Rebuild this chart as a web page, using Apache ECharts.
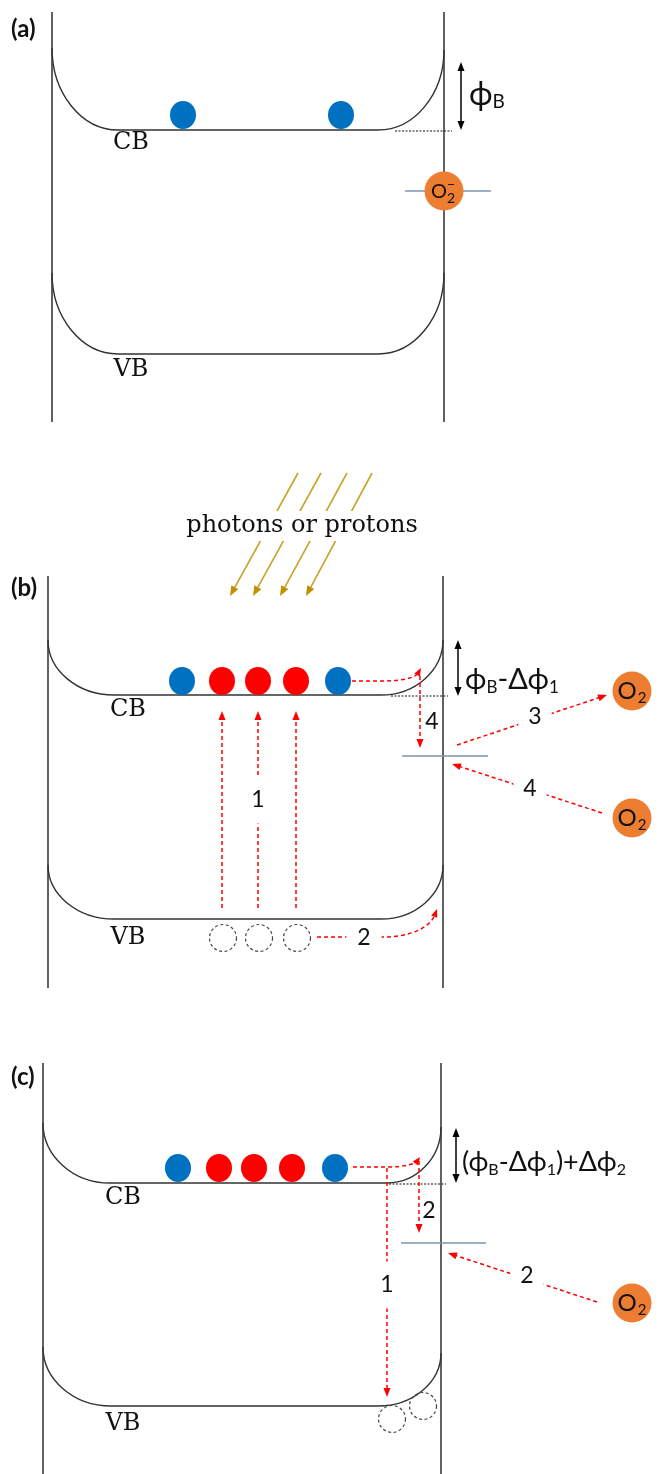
<!DOCTYPE html>
<html><head><meta charset="utf-8">
<script src="https://cdn.jsdelivr.net/npm/echarts@6/dist/echarts.min.js"></script>
<style>html,body{margin:0;padding:0;background:#fff}#c{width:660px;height:1474px}</style>
</head><body><div id="c"></div>
<script>
// ---------------- data (diagram coordinates, y downward) ----------------
const panelLabels = [['(a)', 11, 29], ['(b)', 11, 588], ['(c)', 11, 1077]];
const walls = [[52, 12, 422], [444, 12, 422], [48, 576, 988], [443, 576, 988], [43, 1063, 1474], [441, 1063, 1474]];
// xLeft, yTopLeft, xFlatStart, yFlat, xFlatEnd, xRight, yTopRight
const bandEdges = [
  [52, 48, 118, 130, 378, 444, 50],
  [52, 273, 118, 354, 378, 444, 273],
  [48, 640, 114, 695, 381, 443, 640],
  [48, 865, 114, 919, 381, 443, 865],
  [43, 1123, 110, 1183, 387, 441, 1127],
  [43, 1347, 111, 1406, 378, 441, 1353]
];
const bandNames = [['CB', 131, 143], ['VB', 131, 370], ['CB', 128, 710], ['VB', 128, 938], ['CB', 123, 1198], ['VB', 123, 1424]];
// x, y, kind (0 = thermal electron, 1 = excited electron)
const electrons = [
  [183, 115, 0], [341, 115, 0],
  [182, 681, 0], [222, 681, 1], [258, 681, 1], [296, 681, 1], [338, 681, 0],
  [178, 1168, 0], [219, 1168, 1], [254, 1168, 1], [292, 1168, 1], [335, 1168, 0]
];
const holes = [[223, 938], [259, 938], [297, 938], [392, 1419], [423, 1406]];
const oxygen = [[444, 191, 1], [632, 691, 0], [632, 818, 0], [632, 1303, 0]]; // 1 = ionised O2-
const trapLevels = [[405, 491, 191], [402, 488, 756], [401, 486, 1243]];
const flatRefs = [[395, 452, 131], [391, 448, 696], [389, 446, 1184]];
const barrierArrows = [[461, 62, 130], [458, 640, 696], [456, 1128, 1183]];
const barrierLabels = [
  ['{p|ϕ}{s|B}', 469, 95, 32],
  ['{p|ϕ}{s|B}{p|-Δϕ}{s|1}', 465, 680, 29],
  ['{p|(ϕ}{s|B}{p|-Δϕ}{s|1}{p|)+Δϕ}{s|2}', 462, 1162, 27]
];
// straight red dashed arrows: x1, y1, x2(tip), y2(tip)
const redArrows = [
  [222, 908, 222, 711], [258, 908, 258, 711], [296, 908, 296, 711],
  [420, 676, 420, 748], [457, 745, 607, 695], [602, 813, 452, 764],
  [387, 1168, 387, 1397], [419, 1161, 419, 1233], [597, 1302, 448, 1253]
];
// curved red dashed arrows: start, end of straight part, cubic c1, c2, tip
const redCurves = [
  [352, 681, 382, 681, 405, 681, 416, 677, 421, 668],
  [317, 937, 382, 937, 410, 937, 430, 928, 437, 909],
  [353, 1167, 387, 1167, 403, 1167, 415, 1164, 420, 1157]
];
// label, x, y, gap kind (0 none, 1 vertical arrow, 2 horizontal arrow, 3 slanted arrow)
const arrowLabels = [
  ['1', 258, 800, 1], ['4', 432, 722, 0], ['3', 535, 717, 3], ['4', 530, 789, 3], ['2', 364, 938, 2],
  ['1', 387, 1285, 1], ['2', 429, 1211, 0], ['2', 527, 1276, 3]
];
const photonArrows = [[298, 473, 230, 596], [321, 473, 253, 596], [347, 473, 280, 596], [372, 473, 306, 596]];
const photonText = ['photons or protons', 302, 526];

// ---------------- styling ----------------
const SANS = 'Lato, "Noto Sans", "DejaVu Sans", sans-serif';
const SERIF = '"DejaVu Serif", "Liberation Serif", serif';
const RED = '#ff0000';
const GAP_PAD = [null, [12, 6], [3, 11], [8, 10]];

function head(tip, from, len, wid, color) {
  const dx = tip[0] - from[0], dy = tip[1] - from[1];
  const L = Math.hypot(dx, dy) || 1, ux = dx / L, uy = dy / L;
  const bx = tip[0] - ux * len, by = tip[1] - uy * len;
  const px = -uy * wid / 2, py = ux * wid / 2;
  return { type: 'polygon', shape: { points: [tip, [bx + px, by + py], [bx - px, by - py]] }, style: { fill: color } };
}
function base(tip, from, len) {
  const dx = tip[0] - from[0], dy = tip[1] - from[1];
  const L = Math.hypot(dx, dy) || 1;
  return [tip[0] - dx / L * len, tip[1] - dy / L * len];
}
function mk(arr, render, z) {
  return {
    type: 'custom', coordinateSystem: 'cartesian2d', silent: true, clip: false, z: z || 2,
    data: arr.map((d, i) => [i, i]),
    renderItem: (params, api) => render(arr[params.dataIndex], (x, y) => api.coord([x, y]))
  };
}

const series = [
  mk(walls, (d, P) => ({ type: 'line', shape: { x1: P(d[0], d[1])[0], y1: P(d[0], d[1])[1], x2: P(d[0], d[2])[0], y2: P(d[0], d[2])[1] }, style: { stroke: '#3a3a3a', lineWidth: 1.6 } })),
  mk(bandEdges, (d, P) => {
    const k = 0.552;
    const [xL, yTL, xF1, yF, xF2, xR, yTR] = d;
    const pts = [[xL, yTL], [xL, yTL + k * (yF - yTL)], [xF1 - k * (xF1 - xL), yF], [xF1, yF], [xF2, yF],
      [xF2 + k * (xR - xF2), yF], [xR, yTR + k * (yF - yTR)], [xR, yTR]].map(p => P(p[0], p[1]));
    const s = p => p[0].toFixed(1) + ' ' + p[1].toFixed(1);
    const pd = 'M' + s(pts[0]) + ' C' + s(pts[1]) + ' ' + s(pts[2]) + ' ' + s(pts[3]) + ' L' + s(pts[4]) +
      ' C' + s(pts[5]) + ' ' + s(pts[6]) + ' ' + s(pts[7]);
    return { type: 'path', shape: { pathData: pd }, style: { fill: null, stroke: '#333', lineWidth: 1.4 } };
  }),
  mk(flatRefs, (d, P) => {
    const a = P(d[0], d[2]), b = P(d[1], d[2]);
    return { type: 'line', shape: { x1: a[0], y1: a[1], x2: b[0], y2: b[1] }, style: { stroke: '#111', lineWidth: 1.1, lineDash: [2, 1.5] } };
  }),
  mk(trapLevels, (d, P) => {
    const a = P(d[0], d[2]), b = P(d[1], d[2]);
    return { type: 'line', shape: { x1: a[0], y1: a[1], x2: b[0], y2: b[1] }, style: { stroke: '#8093ad', lineWidth: 1.7 } };
  }),
  mk(barrierArrows, (d, P) => {
    const t = P(d[0], d[1]), b = P(d[0], d[2]);
    const s1 = base(t, b, 8), s2 = base(b, t, 8);
    return { type: 'group', children: [
      { type: 'line', shape: { x1: s1[0], y1: s1[1], x2: s2[0], y2: s2[1] }, style: { stroke: '#000', lineWidth: 1.5 } },
      head(t, b, 9, 7, '#000'), head(b, t, 9, 7, '#000')] };
  }),
  mk(electrons, (d, P) => {
    const c = P(d[0], d[1]);
    return { type: 'circle', x: c[0], y: c[1], scaleY: 14 / 13, shape: { cx: 0, cy: 0, r: 13 }, style: { fill: d[2] ? '#ff0000' : '#0070c0' } };
  }, 4),
  mk(holes, (d, P) => {
    const c = P(d[0], d[1]);
    return { type: 'circle', shape: { cx: c[0], cy: c[1], r: 13.5 }, style: { fill: null, stroke: '#444', lineWidth: 1.2, lineDash: [3, 2.5] } };
  }),
  mk(photonArrows, (d, P) => {
    const a = P(d[0], d[1]), t = P(d[2], d[3]), b = base(t, a, 9);
    return { type: 'group', children: [
      { type: 'line', shape: { x1: a[0], y1: a[1], x2: b[0], y2: b[1] }, style: { stroke: '#c9a227', lineWidth: 1.6 } },
      head(t, a, 10, 8, '#bf9000')] };
  }),
  mk(redArrows, (d, P) => {
    const a = P(d[0], d[1]), t = P(d[2], d[3]), b = base(t, a, 8);
    return { type: 'group', children: [
      { type: 'line', shape: { x1: a[0], y1: a[1], x2: b[0], y2: b[1] }, style: { stroke: RED, lineWidth: 1.5, lineDash: [4, 3] } },
      head(t, a, 9, 7, RED)] };
  }, 3),
  mk(redCurves, (d, P) => {
    const p = [];
    for (let i = 0; i < d.length; i += 2) p.push(P(d[i], d[i + 1]));
    const tip = p[4], end = base(tip, p[3], 6);
    const s = q => q[0].toFixed(1) + ' ' + q[1].toFixed(1);
    const pd = 'M' + s(p[0]) + ' L' + s(p[1]) + ' C' + s(p[2]) + ' ' + s(p[3]) + ' ' + s(end);
    return { type: 'group', children: [
      { type: 'path', shape: { pathData: pd }, style: { fill: null, stroke: RED, lineWidth: 1.5, lineDash: [4, 3] } },
      head(tip, p[3], 8, 6.5, RED)] };
  }, 3),
  mk(oxygen, (d, P) => {
    const c = P(d[0], d[1]);
    const kids = [{ type: 'circle', shape: { cx: c[0], cy: c[1], r: 19.5 }, style: { fill: '#ed7d31' } }];
    if (d[2]) {
      kids.push({ type: 'text', x: c[0] - 5, y: c[1] + 1, style: { text: 'O', fontSize: 20, fontFamily: SANS, fill: '#111', align: 'center', verticalAlign: 'middle' } });
      kids.push({ type: 'text', x: c[0] + 7, y: c[1] - 7, style: { text: '−', fontSize: 14, fontFamily: SANS, fill: '#111', align: 'center', verticalAlign: 'middle' } });
      kids.push({ type: 'text', x: c[0] + 7, y: c[1] + 7, style: { text: '2', fontSize: 14, fontFamily: SANS, fill: '#111', align: 'center', verticalAlign: 'middle' } });
    } else {
      kids.push({ type: 'text', x: c[0] - 5, y: c[1], style: { text: 'O', fontSize: 24, fontFamily: SANS, fill: '#111', align: 'center', verticalAlign: 'middle' } });
      kids.push({ type: 'text', x: c[0] + 10, y: c[1] + 7, style: { text: '2', fontSize: 15, fontFamily: SANS, fill: '#111', align: 'center', verticalAlign: 'middle' } });
    }
    return { type: 'group', children: kids };
  }, 5),
  mk(panelLabels, (d, P) => {
    const c = P(d[1], d[2]);
    return { type: 'text', x: c[0], y: c[1], style: { text: d[0], fontSize: 24, fontWeight: 'bold', fontFamily: SANS, fill: '#111', align: 'left', verticalAlign: 'middle' } };
  }, 6),
  mk(bandNames, (d, P) => {
    const c = P(d[1], d[2]);
    return { type: 'text', x: c[0], y: c[1], style: { text: d[0], fontSize: 24, fontFamily: SERIF, fill: '#111', align: 'center', verticalAlign: 'middle' } };
  }, 6),
  mk(arrowLabels, (d, P) => {
    const c = P(d[1], d[2]);
    const st = { text: d[0], fontSize: 23, fontFamily: SANS, fill: '#111', align: 'center', verticalAlign: 'middle' };
    if (d[3]) { st.backgroundColor = '#fff'; st.padding = GAP_PAD[d[3]]; }
    return { type: 'text', x: c[0], y: c[1], style: st };
  }, 6),
  mk(barrierLabels, (d, P) => {
    const c = P(d[1], d[2]);
    const f = d[3];
    return { type: 'text', x: c[0], y: c[1], style: {
      text: d[0], align: 'left', verticalAlign: 'middle',
      rich: {
        p: { fontSize: f, fontFamily: SANS, fill: '#111', lineHeight: 32 },
        s: { fontSize: Math.round(f * 0.6), fontFamily: SANS, fill: '#111', lineHeight: 15, verticalAlign: 'bottom' }
      } } };
  }, 6),
  mk([photonText], (d, P) => {
    const c = P(d[1], d[2]);
    return { type: 'text', x: c[0], y: c[1], style: { text: d[0], fontSize: 24, fontFamily: SERIF, fill: '#111', align: 'center', verticalAlign: 'middle', backgroundColor: '#fff', padding: [3, 2] } };
  }, 6)
];

const chart = echarts.init(document.getElementById('c'), null, { renderer: 'canvas' });
chart.setOption({
  animation: false,
  backgroundColor: '#fff',
  grid: { left: 0, right: 0, top: 0, bottom: 0 },
  xAxis: { type: 'value', min: 0, max: 660, show: false },
  yAxis: { type: 'value', min: 0, max: 1474, inverse: true, show: false },
  series: series
});
</script></body></html>
